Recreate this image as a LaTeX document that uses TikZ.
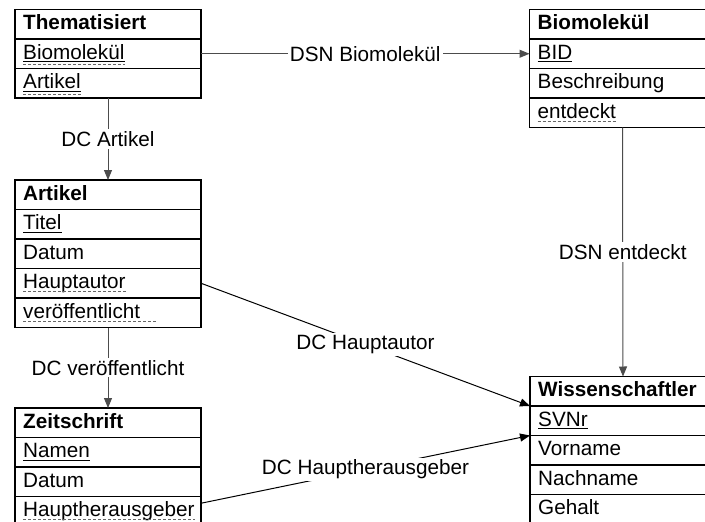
\documentclass[tikz,border=0pt]{standalone}
\usepackage{fontspec}
\setmainfont{Liberation Sans}
\usetikzlibrary{arrows.meta}
\newcommand\pkline[1]{\draw[pk] ([yshift=-2.3pt]#1.base west) -- ([yshift=-2.3pt]#1.base east);}
\newcommand\fkline[2][0pt]{\draw[fk] ([yshift=-2.8pt]#2.base west) -- ([yshift=-2.8pt,xshift=#1]#2.base east);}
\newcommand\pkfkline[1]{\draw[fk] ([yshift=-5.3pt]#1.base west) -- ([yshift=-5.3pt]#1.base east);}
\begin{document}
\begin{tikzpicture}[x=1pt,y=-1pt,
  rowbox/.style={draw=black, line width=1.2pt, minimum height=29.5pt, minimum width=186pt, inner sep=0pt, outer sep=0pt, anchor=north west},
  rowtext/.style={anchor=base west, inner sep=0pt, font=\fontsize{20.7}{24}\selectfont},
  hdr/.style={anchor=base west, inner sep=0pt, font=\fontsize{20.7}{24}\selectfont\bfseries},
  pk/.style={line width=0.9pt},
  fk/.style={line width=0.9pt, black!60, dash pattern=on 3pt off 2pt},
  conn/.style={line width=1pt, -{Triangle[length=10pt,width=8pt]}},
  lbl/.style={fill=white, text=black, inner sep=2pt, font=\fontsize{20.7}{24}\selectfont}]
\useasboundingbox (0,0) rectangle (705,522);
\fill[white] (0,0) rectangle (705,522);
\clip (0,0) rectangle (705,522);
% Thematisiert
\node[rowbox] (t0) at (15,9.5) {};
\node[rowbox] (t1) at (t0.south west) {};
\node[rowbox] (t2) at (t1.south west) {};
\node[hdr] (t0t) at ([xshift=8pt,yshift=-5.5pt]t0.west) {Thematisiert};
\node[rowtext] (t1t) at ([xshift=8pt,yshift=-5.5pt]t1.west) {Biomolekül};
\node[rowtext] (t2t) at ([xshift=8pt,yshift=-5.5pt]t2.west) {Artikel};
\pkline{t1t}\pkfkline{t1t}
\pkline{t2t}\pkfkline{t2t}
% Biomolekuel
\node[rowbox] (b0) at (529.5,9.5) {};
\node[rowbox] (b1) at (b0.south west) {};
\node[rowbox] (b2) at (b1.south west) {};
\node[rowbox] (b3) at (b2.south west) {};
\node[hdr] (b0t) at ([xshift=8pt,yshift=-5.5pt]b0.west) {Biomolekül};
\node[rowtext] (b1t) at ([xshift=8pt,yshift=-5.5pt]b1.west) {BID};
\node[rowtext] (b2t) at ([xshift=8pt,yshift=-5.5pt]b2.west) {Beschreibung};
\node[rowtext] (b3t) at ([xshift=8pt,yshift=-5.5pt]b3.west) {entdeckt};
\pkline{b1t}\fkline{b3t}
% Artikel
\node[rowbox] (a0) at (15,180) {};
\node[rowbox] (a1) at (a0.south west) {};
\node[rowbox] (a2) at (a1.south west) {};
\node[rowbox] (a3) at (a2.south west) {};
\node[rowbox] (a4) at (a3.south west) {};
\node[hdr] (a0t) at ([xshift=8pt,yshift=-5.5pt]a0.west) {Artikel};
\node[rowtext] (a1t) at ([xshift=8pt,yshift=-5.5pt]a1.west) {Titel};
\node[rowtext] (a2t) at ([xshift=8pt,yshift=-5.5pt]a2.west) {Datum};
\node[rowtext] (a3t) at ([xshift=8pt,yshift=-5.5pt]a3.west) {Hauptautor};
\node[rowtext] (a4t) at ([xshift=8pt,yshift=-5.5pt]a4.west) {veröffentlicht};
\pkline{a1t}\fkline{a3t}\fkline[16pt]{a4t}
% Zeitschrift
\node[rowbox] (z0) at (15,408) {};
\node[rowbox] (z1) at (z0.south west) {};
\node[rowbox] (z2) at (z1.south west) {};
\node[rowbox] (z3) at (z2.south west) {};
\node[hdr] (z0t) at ([xshift=8pt,yshift=-5.5pt]z0.west) {Zeitschrift};
\node[rowtext] (z1t) at ([xshift=8pt,yshift=-5.5pt]z1.west) {Namen};
\node[rowtext] (z2t) at ([xshift=8pt,yshift=-5.5pt]z2.west) {Datum};
\node[rowtext] (z3t) at ([xshift=8pt,yshift=-5.5pt]z3.west) {Hauptherausgeber};
\pkline{z1t}\fkline{z3t}
% Wissenschaftler
\node[rowbox] (w0) at (530,376.5) {};
\node[rowbox] (w1) at (w0.south west) {};
\node[rowbox] (w2) at (w1.south west) {};
\node[rowbox] (w3) at (w2.south west) {};
\node[rowbox] (w4) at (w3.south west) {};
\node[hdr] (w0t) at ([xshift=8pt,yshift=-5.5pt]w0.west) {Wissenschaftler};
\node[rowtext] (w1t) at ([xshift=8pt,yshift=-5.5pt]w1.west) {SVNr};
\node[rowtext] (w2t) at ([xshift=8pt,yshift=-5.5pt]w2.west) {Vorname};
\node[rowtext] (w3t) at ([xshift=8pt,yshift=-5.5pt]w3.west) {Nachname};
\node[rowtext] (w4t) at ([xshift=8pt,yshift=-5.5pt]w4.west) {Gehalt};
\pkline{w1t}
% connectors
\draw[conn, black!70] (t1.east) -- node[lbl] {DSN Biomolekül} (b1.west);
\draw[conn, black!70] (t2.south) -- node[lbl] {DC Artikel} (a0.north);
\draw[conn, black!70] (a4.south) -- node[lbl] {DC veröffentlicht} (z0.north);
\draw[conn, black!70] (b3.south) -- node[lbl] {DSN entdeckt} (w0.north);
\draw[conn] (a3.east) -- node[lbl] {DC Hauptautor} (w0.south west);
\draw[conn] ([yshift=8pt]z3.east) -- node[lbl] {DC Hauptherausgeber} (w1.south west);
\end{tikzpicture}
\end{document}
